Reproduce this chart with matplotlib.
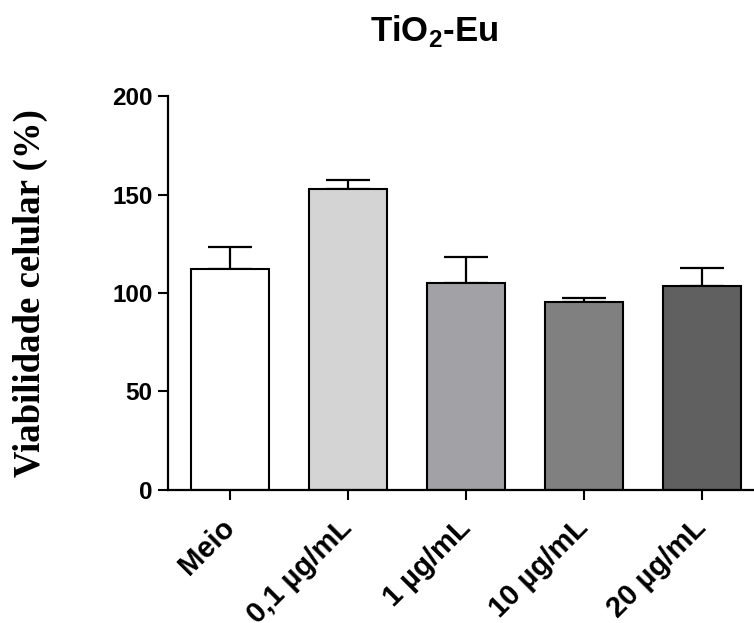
import matplotlib
matplotlib.use("Agg")
import matplotlib.pyplot as plt

# data
groups = ["Meio", "0,1 µg/mL", "1 µg/mL", "10 µg/mL", "20 µg/mL"]
viability = [112.2, 152.6, 105.2, 95.6, 103.6]
sem = [11.3, 4.9, 13.2, 1.9, 9.3]
bar_colors = ["#ffffff", "#d4d4d4", "#a2a2a6", "#808080", "#606060"]

sans = "Liberation Sans"
serif = "Liberation Serif"

fig = plt.figure(figsize=(7.54, 6.23), dpi=100)
ax = fig.add_axes([0.2228, 0.2135, 0.7772, 0.6324])

x = list(range(len(groups)))
ax.bar(x, viability, width=0.66, color=bar_colors, edgecolor="black", linewidth=1.5, zorder=2)
ax.errorbar(x, viability, yerr=[[0] * len(sem), sem], fmt="none", ecolor="black",
            elinewidth=1.6, capsize=16, capthick=1.6, zorder=1)

ax.set_xlim(-0.525, 4.44)
ax.set_ylim(0, 200)
ax.set_yticks([0, 50, 100, 150, 200])
ax.set_xticks(x)

for s in ["top", "right"]:
    ax.spines[s].set_visible(False)
for s in ["left", "bottom"]:
    ax.spines[s].set_linewidth(1.6)

ax.tick_params(axis="both", direction="out", length=7, width=1.5)
ax.tick_params(axis="y", pad=4)
ax.tick_params(axis="x", pad=17)

for lab in ax.get_yticklabels():
    lab.set_fontfamily(sans)
    lab.set_fontweight("bold")
    lab.set_fontsize(17.5)

ax.set_xticklabels(groups, rotation=45, ha="right", va="center", rotation_mode="anchor",
                   fontfamily=sans, fontweight="bold", fontsize=21)

fig.text(434 / 754, 1 - 31 / 623, r"TiO$_\mathregular{2}$-Eu", ha="center", va="center",
         fontfamily=sans, fontweight="bold", fontsize=25)
fig.text(30 / 754, 1 - 293 / 623, "Viabilidade celular (%)", rotation=90, ha="center", va="center",
         fontfamily=serif, fontweight="bold", fontsize=26.5)

fig.savefig("out.png", dpi=100)
